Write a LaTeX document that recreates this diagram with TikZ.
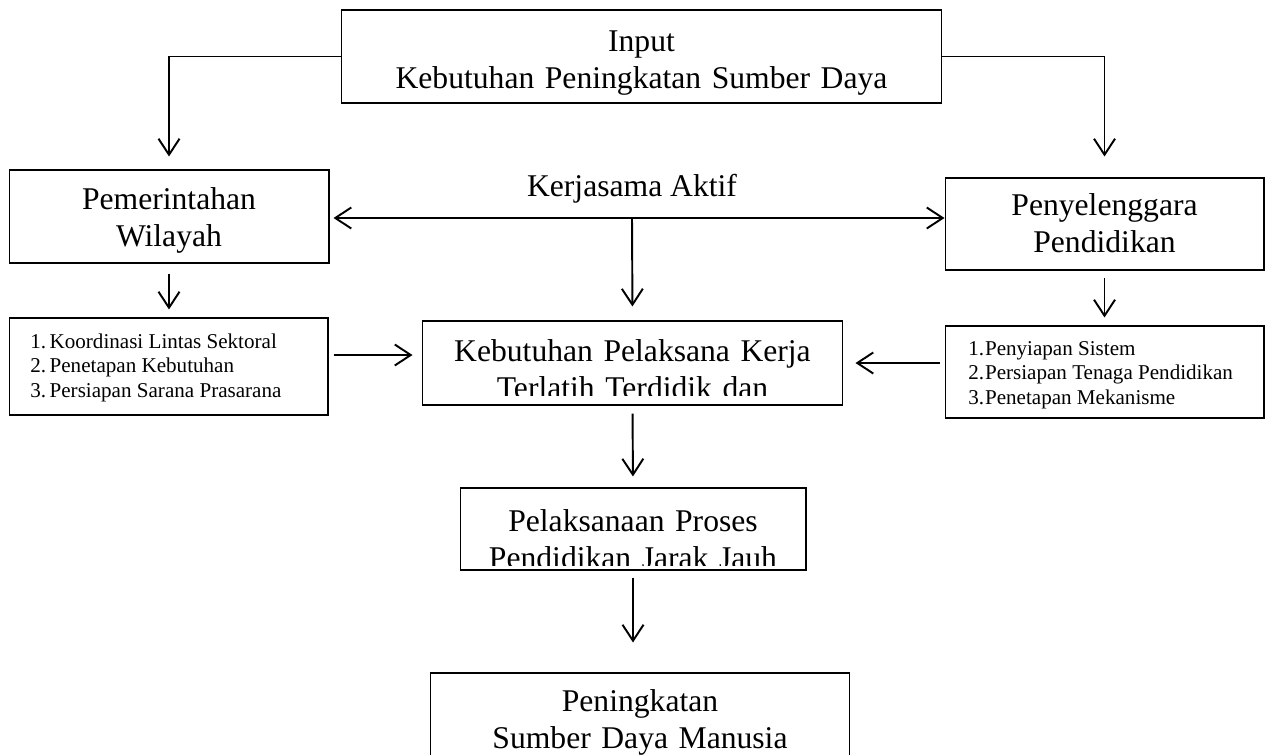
\documentclass[tikz,border=0pt]{standalone}
\usepackage{fontspec}
\setmainfont{Liberation Serif}
\usetikzlibrary{arrows.meta}
\tikzset{>={Straight Barb[length=3.2mm,width=4.2mm]}}
\tikzset{
  bigtxt/.style={font=\fontsize{18}{21.6}\selectfont},
  box/.style={draw, line width=0.6pt, inner sep=0pt},
  txt/.style={anchor=base, align=center, inner sep=0pt, bigtxt},
  listtxt/.style={anchor=base west, inner sep=0pt, font=\fontsize{12}{14}\selectfont},
  arr/.style={->, line width=1.1pt},
}

\begin{document}
\begin{tikzpicture}[x=0.02cm, y=-0.02cm]
  \useasboundingbox (0,0) rectangle (1270,754);
  % input on top
  \node (inp) at (641.5,56.5) [box, minimum width=12.02cm, minimum height=1.86cm] {};
  \node (inptxt) at (641.5,51) [txt, text width=11.8cm] {Input\\Kebutuhan Peningkatan Sumber Daya};
  % the two partners
  \node (pem) at (169,216.5) [box, minimum width=6.4cm, minimum height=1.86cm] {};
  \node (pemtxt) at (169,209) [txt, text width=6.2cm] {Pemerintahan\\Wilayah};
  \node (pen) at (1104.5,224) [box, minimum width=6.38cm, minimum height=1.84cm] {};
  \node (pentxt) at (1104.5,215) [txt, text width=6.2cm] {Penyelenggara\\Pendidikan};
  \draw[arr, shorten >=0.26cm] (inp.west) -| (pem.north);
  \draw[arr, shorten >=0.42cm] (inp.east) -| (pen.north);
  % cooperation between them
  \coordinate (ka) at (632,218);
  \node (kalbl) at (632,196) [txt] {Kerjasama Aktif};
  \draw[arr, <->, shorten <=0.08cm] (pem.east |- ka) -- (pen.west |- ka);
  % task lists
  \node (lst1) at (168.5,366.5) [box, minimum width=6.38cm, minimum height=1.94cm] {};
  \node (lst1txt) at (30,348) [listtxt] {%
    \begin{tabular}[t]{@{}l@{\hspace{2pt}}l@{}}
      1. & Koordinasi Lintas Sektoral\\
      2. & Penetapan Kebutuhan\\
      3. & Persiapan Sarana Prasarana
    \end{tabular}};
  \node (lst2) at (1104.5,372) [box, minimum width=6.38cm, minimum height=1.84cm] {};
  \node (lst2txt) at (968,355) [listtxt] {%
    \begin{tabular}[t]{@{}l@{\hspace{0.5pt}}l@{}}
      1. & Penyiapan Sistem\\
      2. & Persiapan Tenaga Pendidikan\\
      3. & Penetapan Mekanisme
    \end{tabular}};
  \draw[arr, shorten <=0.2cm, shorten >=0.16cm] (pem.south) -- (pem.south |- lst1.north);
  \draw[arr, shorten <=0.14cm, shorten >=0.16cm] (pen.south) -- (pen.south |- lst2.north);
  % workforce need
  \node (mid) at (632.5,363) [box, minimum width=8.42cm, minimum height=1.68cm] {};
  \begin{scope}
    \clip (mid.north west) rectangle ([yshift=0.2cm]mid.south east);
    \node (midtxt) at (632.5,361) [txt, text width=8.4cm] {Kebutuhan Pelaksana Kerja\\Terlatih Terdidik dan};
  \end{scope}
  \draw[arr, shorten >=0.28cm] (ka) -- (mid.north);
  \draw[arr, shorten <=0.1cm, shorten >=0.18cm] ([yshift=0.16cm]mid.west -| lst1.east) -- ([yshift=0.16cm]mid.west);
  \draw[arr, shorten <=0.1cm, shorten >=0.24cm] (mid.east -| lst2.west) -- (mid.east);
  % distance learning
  \node (pel) at (633,529) [box, minimum width=6.92cm, minimum height=1.64cm] {};
  \begin{scope}
    \clip (pel.north west) rectangle ([yshift=0.1cm]pel.south east);
    \node (peltxt) at (633,531) [txt, text width=6.9cm] {Pelaksanaan Proses\\Pendidikan Jarak Jauh};
  \end{scope}
  \draw[arr, shorten <=0.16cm, shorten >=0.22cm] (mid.south) -- (pel.north);
  % outcome
  \node (out) at (640,730) [box, minimum width=8.4cm, minimum height=2.28cm] {};
  \node (outtxt) at (640,711) [txt, text width=8.4cm] {Peningkatan\\Sumber Daya Manusia};
  \draw[arr, shorten <=0.14cm, shorten >=0.6cm] (pel.south) -- (pel.south |- out.north);
\end{tikzpicture}
\end{document}
